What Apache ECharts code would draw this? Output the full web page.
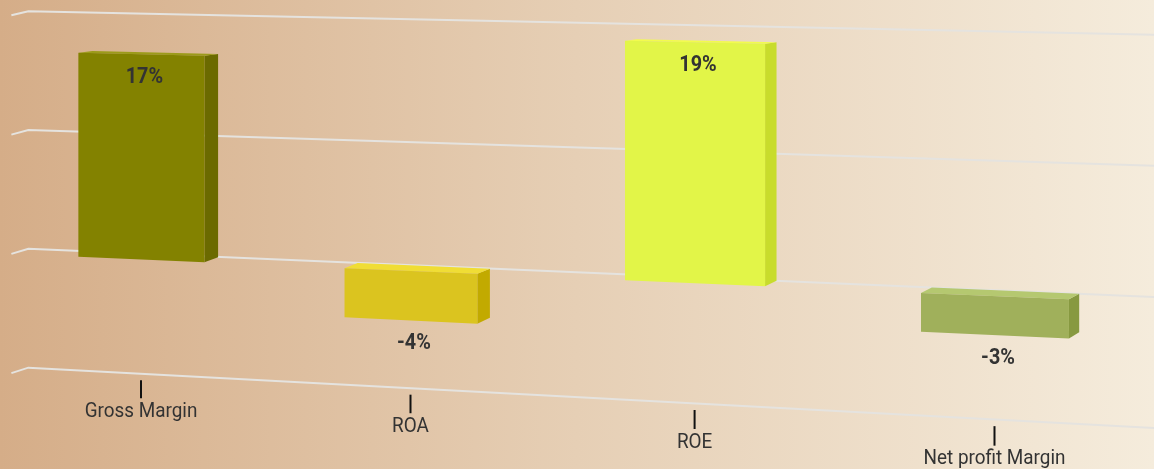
<!DOCTYPE html>
<html>
<head>
<meta charset="utf-8">
<script src="https://cdn.jsdelivr.net/npm/echarts@6/dist/echarts.min.js"></script>
<style>
  html, body { margin: 0; padding: 0; }
  #chart { width: 1154px; height: 469px; }
</style>
</head>
<body>
<div id="chart"></div>
<script>
  // data
  const categories = ['Gross Margin', 'ROA', 'ROE', 'Net profit Margin'];
  const values = [17, -4, 19, -3];
  const yTicks = [-10, 0, 10, 20];
  const frontColors = ['#838200', '#dbc41f', '#e2f548', '#a0b05b'];
  const sideColors = ['#6b6a00', '#c2aa00', '#c8dc2c', '#879940'];
  const topColors = ['#9c9b1a', '#f0dd35', '#f2fb4e', '#b5c870'];

  const W = 1154;
  const BW = W / categories.length;
  const HALF = 0.24; // half bar width, in bands

  // flat grid -> perspective screen
  function makeWarp(api) {
    const z = api.coord([0, 0])[1];
    const per = (z - api.coord([0, 10])[1]) / 10;
    return function (px, py) {
      const c = px / BW - 0.5;
      const x = (141 + 258.96 * c) / (1 - 0.02568 * c);
      const zero = 256.7 + 0.0429 * (x - 77);
      const scale = 12.0 + 0.0011 * (x - 77);
      return [x, zero + (py - z) / per * scale];
    };
  }
  function wallShift(p) {
    return [p[0] + 17, p[1] - (4 + 0.004 * p[1])];
  }
  function barShift(p) {
    return [p[0] + 14.5 - 0.004 * p[0], p[1] - (0.8 + 0.016 * p[1])];
  }

  var chart = echarts.init(document.getElementById('chart'));
  chart.setOption({
    backgroundColor: new echarts.graphic.LinearGradient(0, 0, 1, 0, [
      {offset: 0, color: '#d5ad88'},
      {offset: 0.5, color: '#e6cfb5'},
      {offset: 1, color: '#f5ecdc'}
    ]),
    animation: false,
    grid: {left: 0, right: 0, top: 15, bottom: 96},
    xAxis: {type: 'category', data: categories, show: false},
    yAxis: {type: 'value', min: -10, max: 20, interval: 10, show: false},
    series: [
      {
        // back wall grid lines
        type: 'custom',
        data: yTicks.map(function (v) { return [0, v]; }),
        renderItem: function (params, api) {
          const warp = makeWarp(api);
          const py = api.coord([0, api.value(1)])[1];
          const front = warp(0, py);
          const back = wallShift(front);
          const end = wallShift(warp(W + BW * 0.3, py));
          return {
            type: 'polyline',
            shape: {points: [front, back, end]},
            style: {stroke: '#e5e3df', lineWidth: 2, fill: null}
          };
        }
      },
      {
        // 3d bars
        type: 'custom',
        data: values.map(function (v, i) { return [i, v]; }),
        renderItem: function (params, api) {
          const warp = makeWarp(api);
          const i = params.dataIndex;
          const v = api.value(1);
          const c = api.coord([i, 0])[0];
          const yTop = api.coord([i, Math.max(v, 0)])[1];
          const yBot = api.coord([i, Math.min(v, 0)])[1];
          const l = c - HALF * BW, r = c + HALF * BW;
          const flt = warp(l, yTop), frt = warp(r, yTop);
          const frb = warp(r, yBot), flb = warp(l, yBot);
          const blt = barShift(flt), brt = barShift(frt), brb = barShift(frb);
          const cx = (flt[0] + frt[0]) / 2 + 3;
          const ly = v >= 0 ? (flt[1] + frt[1]) / 2 + 12 : (flb[1] + frb[1]) / 2 + 12;
          return {
            type: 'group',
            children: [
              {type: 'polygon', shape: {points: [frt, brt, brb, frb]}, style: {fill: sideColors[i]}},
              {type: 'polygon', shape: {points: [flt, blt, brt, frt]}, style: {fill: topColors[i]}},
              {type: 'polygon', shape: {points: [flt, frt, frb, flb]}, style: {fill: frontColors[i]}},
              {
                type: 'text', x: cx, y: ly, scaleX: 0.9,
                style: {
                  text: v + '%', x: 0, y: 0, align: 'center', verticalAlign: 'top',
                  fill: '#333333', fontFamily: 'Roboto', fontWeight: 'bold', fontSize: 22
                }
              }
            ]
          };
        }
      },
      {
        // category ticks and labels
        type: 'custom',
        data: categories.map(function (name, i) { return [i, -10]; }),
        renderItem: function (params, api) {
          const warp = makeWarp(api);
          const i = params.dataIndex;
          const c = api.coord([i, -10]);
          const top = warp(c[0], c[1]);
          const bot = warp(c[0], api.coord([i, -11.5])[1]);
          return {
            type: 'group',
            children: [
              {type: 'line', shape: {x1: top[0], y1: top[1], x2: bot[0], y2: bot[1]}, style: {stroke: '#111', lineWidth: 2}},
              {
                type: 'text', x: bot[0], y: bot[1] + 3, scaleX: 0.9,
                style: {
                  text: categories[i], x: 0, y: 0, align: 'center', verticalAlign: 'top',
                  fill: '#333333', fontFamily: 'Roboto', fontSize: 21
                }
              }
            ]
          };
        }
      }
    ]
  });
</script>
</body>
</html>
